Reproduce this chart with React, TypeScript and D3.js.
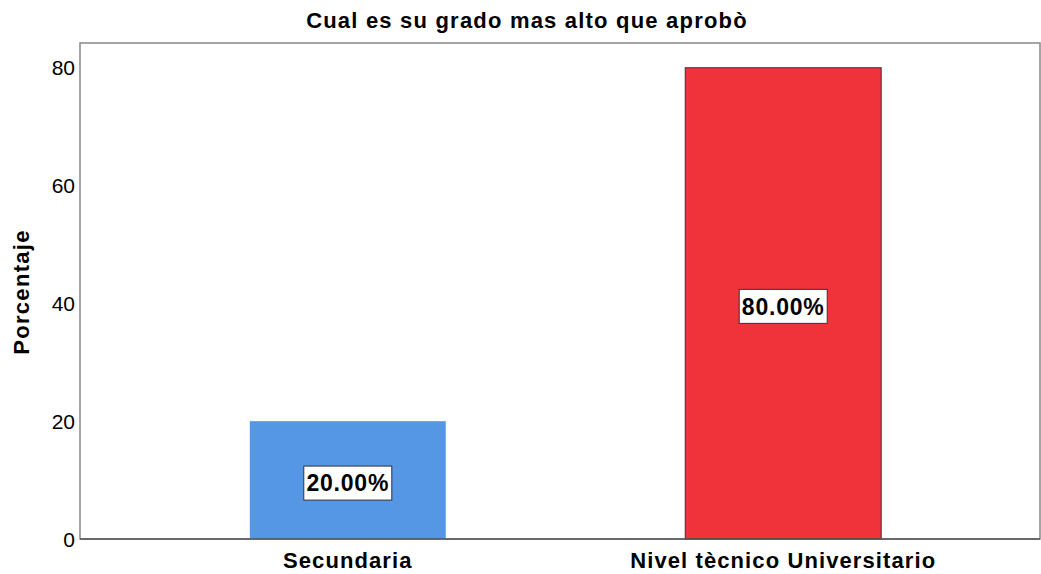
import React, { useEffect, useRef } from 'react';
import * as d3 from 'd3';

const categories = ['Secundaria', 'Nivel tècnico Universitario'];
const percentages = [20, 80];
const barColors = ['#5596e5', '#f0323b'];
const yTicks = [0, 20, 40, 60, 80];

const App = () => {
  const ref = useRef<SVGSVGElement>(null);

  useEffect(() => {
    const svg = d3.select(ref.current);
    svg.selectAll('*').remove();

    const left = 80;
    const right = 1040;
    const top = 43;
    const bottom = 539;
    const font = '"Liberation Sans", Arial, sans-serif';

    const x = d3.scaleBand<string>().domain(categories).range([left, 1051]).paddingInner(0.55).paddingOuter(0.39);
    const y = d3.scaleLinear().domain([0, 84.2]).range([bottom, top]);

    svg.append('rect').attr('width', 1041).attr('height', 574).attr('fill', '#fff');

    // cadre
    svg.append('rect')
      .attr('x', left).attr('y', top)
      .attr('width', right - left).attr('height', bottom - top)
      .attr('fill', 'none').attr('stroke', '#888').attr('stroke-width', 1.5);

    // barres
    svg.selectAll('.bar')
      .data(percentages)
      .enter()
      .append('rect')
      .attr('x', (d, i) => x(categories[i])!)
      .attr('y', d => y(d))
      .attr('width', x.bandwidth())
      .attr('height', d => bottom - y(d))
      .attr('fill', (d, i) => barColors[i])
      .attr('stroke', (d, i) => (i === 0 ? 'none' : '#333'))
      .attr('stroke-width', 1);

    // axe du bas
    svg.append('line')
      .attr('x1', left).attr('x2', right)
      .attr('y1', bottom).attr('y2', bottom)
      .attr('stroke', '#555').attr('stroke-width', 1.5);

    // graduations y
    svg.selectAll('.ytick')
      .data(yTicks)
      .enter()
      .append('text')
      .attr('x', left - 5)
      .attr('y', d => y(d))
      .attr('dy', '0.36em')
      .attr('text-anchor', 'end')
      .attr('font-family', font)
      .attr('font-size', 21)
      .attr('fill', '#000')
      .text(d => d);

    // étiquettes des catégories
    svg.selectAll('.xlab')
      .data(categories)
      .enter()
      .append('text')
      .attr('x', d => x(d)! + x.bandwidth() / 2)
      .attr('y', 568)
      .attr('text-anchor', 'middle')
      .attr('font-family', font)
      .attr('font-weight', 'bold')
      .attr('font-size', 22)
      .attr('letter-spacing', 1.1)
      .attr('fill', '#000')
      .text(d => d);

    // étiquettes des valeurs
    percentages.forEach((d, i) => {
      const cx = x(categories[i])! + x.bandwidth() / 2;
      const cy = (y(d) + bottom) / 2 + 3;
      const g = svg.append('g');
      g.append('rect')
        .attr('x', cx - 44).attr('y', cy - 17)
        .attr('width', 88).attr('height', 34)
        .attr('fill', '#fff').attr('stroke', '#333').attr('stroke-width', 1);
      g.append('text')
        .attr('x', cx).attr('y', cy)
        .attr('dy', '0.36em')
        .attr('text-anchor', 'middle')
        .attr('font-family', font)
        .attr('font-weight', 'bold')
        .attr('font-size', 23)
        .attr('letter-spacing', 0.8)
        .attr('fill', '#000')
        .text(d3.format('.2f')(d) + '%');
    });

    // titre
    svg.append('text')
      .attr('x', 527).attr('y', 28)
      .attr('text-anchor', 'middle')
      .attr('font-family', font)
      .attr('font-weight', 'bold')
      .attr('font-size', 22)
      .attr('letter-spacing', 1.2)
      .attr('fill', '#000')
      .text('Cual es su grado mas alto que aprobò');

    // titre de l'axe y
    svg.append('text')
      .attr('transform', `translate(29, 292) rotate(-90)`)
      .attr('text-anchor', 'middle')
      .attr('font-family', font)
      .attr('font-weight', 'bold')
      .attr('font-size', 22)
      .attr('letter-spacing', 1.3)
      .attr('fill', '#000')
      .text('Porcentaje');
  }, []);

  return (
    <svg ref={ref} width={1041} height={574} style={{ position: 'absolute', left: 0, top: 0 }} />
  );
};

export default App;
